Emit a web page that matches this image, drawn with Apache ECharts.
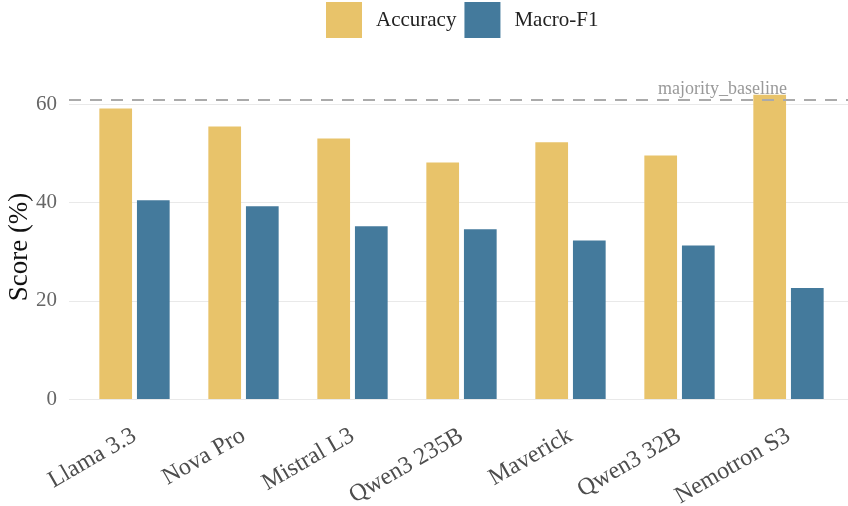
<!DOCTYPE html>
<html>
<head>
<meta charset="utf-8">
<script src="https://cdn.jsdelivr.net/npm/echarts@6/dist/echarts.min.js"></script>
<style>
  html, body { margin: 0; padding: 0; background: #fff; }
  #chart { width: 848px; height: 506px; }
</style>
</head>
<body>
<div id="chart"></div>
<script>
  const models = ['Llama 3.3', 'Nova Pro', 'Mistral L3', 'Qwen3 235B', 'Maverick', 'Qwen3 32B', 'Nemotron S3'];
  const accuracy = [59.2, 55.5, 53.1, 48.2, 52.3, 49.6, 62.0];
  const macroF1 = [40.5, 39.3, 35.2, 34.6, 32.3, 31.3, 22.6];
  const majorityBaseline = 61.0;
  const yTicks = [0, 20, 40, 60];

  const font = 'Liberation Serif';
  const chart = echarts.init(document.getElementById('chart'));

  const option = {
    animation: false,
    textStyle: { fontFamily: font },
    legend: {
      left: 326,
      top: 2,
      padding: 0,
      itemWidth: 36,
      itemHeight: 36,
      itemGap: 8,
      icon: 'rect',
      textStyle: { fontSize: 21, color: '#222', padding: [0, 0, 0, 9] },
      data: ['Accuracy', 'Macro-F1']
    },
    grid: [
      // background grid: gridlines, tick labels, baseline
      { left: 69, right: 0, top: 80, bottom: 107, outerBoundsMode: 'none', containLabel: false },
      // bars
      { left: 80, right: 5, top: 80, bottom: 107, outerBoundsMode: 'none', containLabel: false }
    ],
    xAxis: [
      { gridIndex: 0, type: 'value', min: 0, max: 1, show: false },
      {
        gridIndex: 1,
        type: 'category',
        data: models,
        axisLine: { show: false },
        axisTick: { show: false },
        axisLabel: {
          rotate: 30,
          margin: 35,
          fontSize: 24,
          color: '#4d4d4d',
          interval: 0
        }
      }
    ],
    yAxis: [
      {
        gridIndex: 0,
        type: 'value',
        min: 0,
        max: 65,
        interval: yTicks[1] - yTicks[0],
        name: 'Score (%)',
        nameLocation: 'middle',
        nameGap: 36,
        nameMoveOverlap: false,
        nameTextStyle: { fontSize: 27, color: '#111', padding: [0, 15, 0, 0] },
        axisLine: { show: false },
        axisTick: { show: false },
        axisLabel: { margin: 12, fontSize: 21, color: '#666', showMaxLabel: false },
        splitLine: { showMaxLine: false, lineStyle: { color: '#e9e9e9', width: 1 } }
      },
      { gridIndex: 1, type: 'value', min: 0, max: 65, show: false }
    ],
    series: [
      {
        type: 'line',
        xAxisIndex: 0,
        yAxisIndex: 0,
        data: [],
        silent: true,
        markLine: {
          symbol: 'none',
          silent: true,
          lineStyle: { color: '#aaa', width: 2, type: [12, 9] },
          label: {
            show: true,
            position: 'insideEndTop',
            distance: [61, 1],
            formatter: 'majority_baseline',
            fontFamily: font,
            fontSize: 18,
            color: '#999'
          },
          data: [{ yAxis: majorityBaseline }]
        }
      },
      {
        name: 'Accuracy',
        type: 'bar',
        xAxisIndex: 1,
        yAxisIndex: 1,
        data: accuracy,
        barWidth: '30%',
        barGap: '15%',
        itemStyle: { color: '#E8C36A' }
      },
      {
        name: 'Macro-F1',
        type: 'bar',
        xAxisIndex: 1,
        yAxisIndex: 1,
        data: macroF1,
        barWidth: '30%',
        barGap: '15%',
        itemStyle: { color: '#447A9C' }
      }
    ]
  };

  chart.setOption(option);
</script>
</body>
</html>
